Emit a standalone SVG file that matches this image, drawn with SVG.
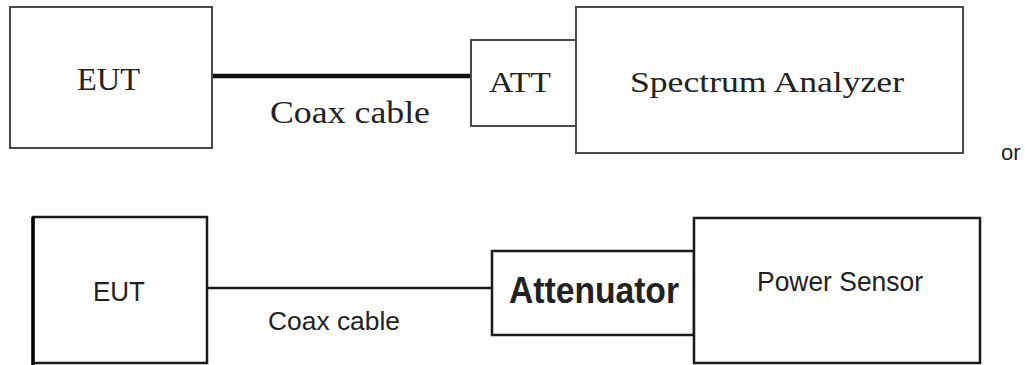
<svg xmlns="http://www.w3.org/2000/svg" width="1025" height="365" viewBox="0 0 1025 365">
<style>
.tb{fill:#fff;stroke:#4a4a4a;stroke-width:2}
.bb{fill:#fff;stroke:#1a1a1a;stroke-width:2.5}
.serif{font-family:"Liberation Serif","DejaVu Serif",serif;fill:#222}
.sans{font-family:"Liberation Sans",Arial,sans-serif;fill:#222}
</style>
<rect width="1025" height="365" fill="#fff"/>
<g id="connectors">
<line x1="212" y1="76" x2="471" y2="76" stroke="#111" stroke-width="4.5"/>
<line x1="207" y1="288" x2="492" y2="288" stroke="#1a1a1a" stroke-width="2.5"/>
</g>
<g id="eut1">
<rect class="tb" x="10" y="7" width="202" height="141"/>
<text class="serif" x="108.5" y="90" font-size="32" text-anchor="middle" textLength="63" lengthAdjust="spacingAndGlyphs">EUT</text>
</g>
<g id="coax1">
<text class="serif" x="350" y="123" font-size="32" text-anchor="middle" textLength="160" lengthAdjust="spacingAndGlyphs">Coax cable</text>
</g>
<g id="att">
<rect class="tb" x="471" y="40" width="105" height="86"/>
<text class="serif" x="520" y="92" font-size="30" text-anchor="middle" textLength="62" lengthAdjust="spacingAndGlyphs">ATT</text>
</g>
<g id="sa">
<rect class="tb" x="576" y="7" width="387" height="146"/>
<text class="serif" x="767" y="92" font-size="30" text-anchor="middle" textLength="274" lengthAdjust="spacingAndGlyphs">Spectrum Analyzer</text>
</g>
<g id="or">
<text class="sans" x="1001" y="160" font-size="22" fill="#111">or</text>
</g>
<g id="eut2">
<rect class="bb" x="33" y="217" width="174" height="146"/>
<line x1="33" y1="217" x2="33" y2="365" stroke="#000" stroke-width="3.5"/>
<text class="sans" x="119" y="301" font-size="27" text-anchor="middle" textLength="52" lengthAdjust="spacingAndGlyphs">EUT</text>
</g>
<g id="coax2">
<text class="sans" x="334" y="330" font-size="26" text-anchor="middle" textLength="132" lengthAdjust="spacingAndGlyphs">Coax cable</text>
</g>
<g id="attenuator">
<rect class="bb" x="492" y="251" width="202" height="84" stroke-width="3"/>
<text class="sans" x="594" y="303" font-size="37" font-weight="bold" fill="#111" text-anchor="middle" textLength="170" lengthAdjust="spacingAndGlyphs">Attenuator</text>
</g>
<g id="power">
<rect class="bb" x="694" y="218" width="286" height="145"/>
<text class="sans" x="840" y="291" font-size="27" text-anchor="middle" textLength="166" lengthAdjust="spacingAndGlyphs">Power Sensor</text>
</g>
</svg>
